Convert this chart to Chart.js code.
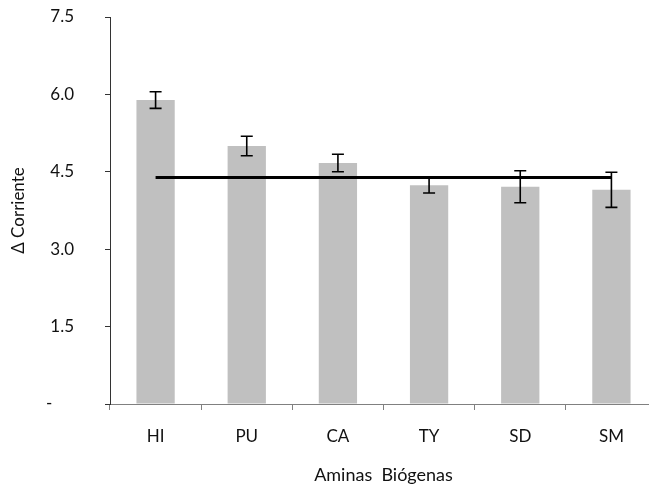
<!DOCTYPE html>
<html>
<head>
<meta charset="utf-8">
<script src="https://cdn.jsdelivr.net/npm/chart.js@4"></script>
<style>
    html, body { margin: 0; padding: 0; background: #fff; overflow: hidden; }
</style>
</head>
<body>
<canvas id="grafico" width="660" height="488"></canvas>
<script>
// Datos
const categorias = ['HI', 'PU', 'CA', 'TY', 'SD', 'SM'];
const valores = [5.89, 5.00, 4.67, 4.24, 4.21, 4.15];
const errores = [0.16, 0.19, 0.17, 0.15, 0.31, 0.34];
const lineaReferencia = [4.39, 4.39, 4.39, 4.39, 4.39, 4.39];
const etiquetasY = ['-', '1.5', '3.0', '4.5', '6.0', '7.5'];

const fuente = { family: 'Lato, "Open Sans", sans-serif', size: 17 };
const fuenteTitulo = { family: 'Lato, "Open Sans", sans-serif', size: 18 };
const colorTexto = '#111';

// Plugin sencillo para dibujar las barras de error
const barrasError = {
    id: 'barrasError',
    afterDatasetsDraw(chart) {
        const { ctx, scales: { x, y } } = chart;
        ctx.save();
        ctx.strokeStyle = '#000';
        ctx.lineWidth = 1.6;
        valores.forEach((v, i) => {
            const px = x.getPixelForValue(i);
            const arriba = y.getPixelForValue(v + errores[i]);
            const abajo = y.getPixelForValue(v - errores[i]);
            ctx.beginPath();
            ctx.moveTo(px, arriba);
            ctx.lineTo(px, abajo);
            ctx.moveTo(px - 6, arriba);
            ctx.lineTo(px + 6, arriba);
            ctx.moveTo(px - 6, abajo);
            ctx.lineTo(px + 6, abajo);
            ctx.stroke();
        });
        ctx.restore();
    }
};

const ctx = document.getElementById('grafico').getContext('2d');
new Chart(ctx, {
    type: 'bar',
    data: {
        labels: categorias,
        datasets: [
            {
                type: 'line',
                data: lineaReferencia,
                borderColor: '#000',
                borderWidth: 3,
                pointRadius: 0,
                fill: false,
                order: 0
            },
            {
                data: valores,
                backgroundColor: '#c0c0c0',
                borderWidth: 0,
                categoryPercentage: 1,
                barPercentage: 0.42,
                order: 1
            }
        ]
    },
    options: {
        responsive: false,
        animation: false,
        layout: { padding: { top: 17, right: 3, left: 0, bottom: 0 } },
        plugins: { legend: { display: false }, tooltip: { enabled: false } },
        scales: {
            x: {
                grid: { display: true, drawOnChartArea: false, drawTicks: true, tickLength: 6, offset: true, color: '#808080' },
                border: { color: '#808080', width: 1 },
                ticks: { font: fuente, color: colorTexto, padding: 16, maxRotation: 0 },
                title: { display: true, text: 'Aminas  Biógenas', font: fuenteTitulo, color: colorTexto, padding: { top: 4, bottom: 2 } },
                afterFit(scale) { scale.height = 84; }
            },
            y: {
                min: 0,
                max: 7.5,
                grid: { display: true, drawOnChartArea: false, drawTicks: true, tickLength: 5, color: '#333' },
                border: { color: '#333', width: 1 },
                ticks: {
                    stepSize: 1.5,
                    font: fuente,
                    color: colorTexto,
                    padding: 31,
                    callback: (valor, indice) => indice === 0 ? etiquetasY[0] + '     ' : etiquetasY[indice]
                },
                title: { display: true, text: 'Δ Corriente', font: fuente, color: colorTexto, padding: { top: 8, bottom: 4 } },
                afterFit(scale) {
                    scale.width = 110;
                    scale.paddingTop = 0;
                    scale.paddingBottom = 0;
                }
            }
        }
    },
    plugins: [barrasError]
});
</script>
</body>
</html>
